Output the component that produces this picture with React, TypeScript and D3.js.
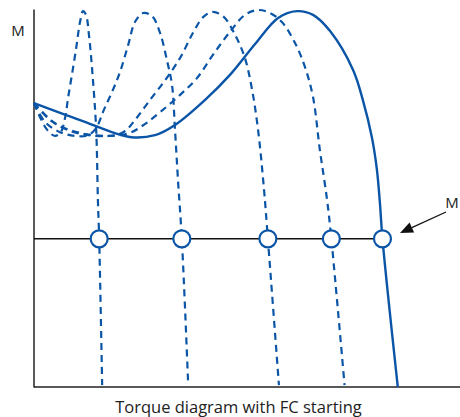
import React from "react";
import * as d3 from "d3";

// Speed (% of x extent) and torque (% of y extent)
const naturalSpeed = [0, 10.8, 22.5, 28.4, 33.1, 40.1, 46.0, 51.9, 57.3, 61.7, 65.5, 69.5, 74.9, 77.2, 79.3, 80.5, 81.2, 81.8, 85.4];
const naturalTorque = [75.3, 70.8, 66.3, 66.8, 69.5, 76.1, 82.8, 91.0, 97.9, 99.7, 98.7, 94.4, 84.1, 76.1, 66.3, 57.6, 48.8, 39.3, 0];

const fc1Speed = [0, 1.4, 3.1, 4.9, 6.3, 7.3, 8.0, 8.9, 9.9, 10.8, 11.5, 12.2, 12.9, 13.8, 14.6, 15.0, 15.3, 16.0];
const fc1Torque = [75.3, 71.6, 68.2, 66.6, 67.6, 71.4, 76.7, 82.8, 89.9, 96.8, 99.7, 98.7, 93.4, 82.0, 68.2, 49.6, 39.3, 0.5];

const fc2Speed = [0, 2.6, 6.1, 9.6, 12.7, 14.6, 16.4, 18.3, 20.2, 22.1, 23.7, 25.6, 27.7, 29.6, 31.2, 32.4, 33.1, 33.8, 34.7, 36.2];
const fc2Torque = [75.3, 70.3, 67.6, 66.6, 66.8, 68.7, 73.5, 78.2, 83.6, 90.7, 96.8, 99.2, 98.4, 93.9, 86.7, 80.1, 68.2, 54.9, 39.3, 0.5];

const fc3Speed = [0, 3.8, 8.5, 14.3, 19.0, 21.4, 23.7, 27.2, 30.8, 34.3, 37.3, 39.7, 42.0, 44.6, 47.2, 49.5, 51.2, 52.6, 54.0, 54.9, 57.5];
const fc3Torque = [75.3, 70.8, 67.9, 66.6, 66.8, 67.9, 70.8, 76.1, 81.4, 87.3, 93.9, 98.1, 99.5, 98.1, 93.4, 87.3, 78.8, 68.2, 52.3, 39.3, 0.5];

const fc4Speed = [0, 4.9, 10.8, 17.8, 22.5, 26.1, 29.6, 34.3, 38.3, 42.0, 46.0, 49.5, 52.6, 55.4, 58.2, 61.3, 63.6, 65.5, 67.1, 68.8, 69.8, 72.9];
const fc4Torque = [75.3, 70.0, 67.4, 66.6, 67.4, 69.8, 72.9, 77.5, 82.0, 88.1, 94.2, 98.7, 100, 99.2, 96.8, 91.2, 84.9, 76.9, 62.9, 49.6, 39.3, 0.5];

const loadTorque = 39.3;
const operatingSpeeds = [15.3, 34.7, 54.9, 69.8, 81.8];

const caption = "Torque diagram with FC starting";
const yLabel = "M";
const loadLabel = "M";

const W = 460;
const H = 417;
const BLUE = "#0b55a7";

export default function App() {
  const x = d3.scaleLinear().domain([0, 100]).range([34, 460]);
  const y = d3.scaleLinear().domain([0, 100]).range([387, 10]);

  const line = d3
    .line<[number, number]>()
    .x((d) => x(d[0]))
    .y((d) => y(d[1]))
    .curve(d3.curveCatmullRom.alpha(0.5));

  const zip = (a: number[], b: number[]) => a.map((v, i) => [v, b[i]] as [number, number]);

  const dashed = [
    zip(fc1Speed, fc1Torque),
    zip(fc2Speed, fc2Torque),
    zip(fc3Speed, fc3Torque),
    zip(fc4Speed, fc4Torque),
  ];
  const solid = zip(naturalSpeed, naturalTorque);

  const lastX = x(operatingSpeeds[operatingSpeeds.length - 1]);
  const yLoad = y(loadTorque);

  // arrow geometry
  const ax1 = 446, ay1 = 212, ax2 = 400, ay2 = 233;
  const ang = Math.atan2(ay2 - ay1, ax2 - ax1);
  const hl = 13, hw = 5.5;
  const bx = ax2 - hl * Math.cos(ang);
  const by = ay2 - hl * Math.sin(ang);
  const px = -Math.sin(ang), py = Math.cos(ang);
  const head = `M${ax2},${ay2} L${bx + px * hw},${by + py * hw} L${bx - px * hw},${by - py * hw} Z`;

  return (
    <svg
      width={W}
      height={H}
      style={{ position: "absolute", left: 0, top: 0, background: "#fff" }}
      fontFamily="'Open Sans', sans-serif"
    >
      <rect width={W} height={H} fill="#fff" />
      {/* axes */}
      <line x1={x(0)} y1={y(0) + 0.5} x2={x(0)} y2={9.5} stroke="#222" strokeWidth={1.5} />
      <line x1={x(0)} y1={y(0)} x2={W} y2={y(0)} stroke="#222" strokeWidth={1.5} />

      {/* load line */}
      <line x1={x(0)} y1={yLoad} x2={lastX} y2={yLoad} stroke="#111" strokeWidth={1.5} />

      {dashed.map((d, i) => (
        <path
          key={i}
          d={line(d) || ""}
          fill="none"
          stroke={BLUE}
          strokeWidth={2.2}
          strokeDasharray="7,5"
        />
      ))}
      <path d={line(solid) || ""} fill="none" stroke={BLUE} strokeWidth={2.4} />

      {operatingSpeeds.map((s, i) => (
        <circle key={i} cx={x(s)} cy={yLoad} r={8.5} fill="#fff" stroke={BLUE} strokeWidth={2.2} />
      ))}

      {/* arrow */}
      <line x1={ax1} y1={ay1} x2={bx} y2={by} stroke="#111" strokeWidth={1.3} />
      <path d={head} fill="#111" />

      <text x={18} y={36} fontSize={15} textAnchor="middle" fill="#222">{yLabel}</text>
      <text x={452} y={208} fontSize={15} textAnchor="middle" fill="#222">{loadLabel}</text>
      <text x={238.5} y={413} fontSize={16.5} textAnchor="middle" fill="#222">{caption}</text>
    </svg>
  );
}
